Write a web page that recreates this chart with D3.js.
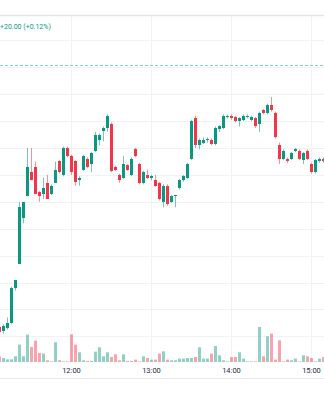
<!DOCTYPE html>
<html>
<head>
<meta charset="utf-8">
<script src="https://cdn.jsdelivr.net/npm/d3@7"></script>
<style>
  html, body { margin: 0; padding: 0; background: #fff; overflow: hidden; }
  svg { display: block; }
</style>
</head>
<body>
<svg id="chart" width="324" height="400"></svg>
<script>
// 3-minute bars
const times = ["11:06","11:09","11:12","11:15","11:18","11:21","11:24","11:27","11:30","11:33",
  "11:36","11:39","11:42","11:45","11:48","11:51","11:54","11:57","12:00","12:03",
  "12:06","12:09","12:12","12:15","12:18","12:21","12:24","12:27","12:30","12:33",
  "12:36","12:39","12:42","12:45","12:48","12:51","12:54","12:57","13:00","13:03",
  "13:06","13:09","13:12","13:15","13:18","13:21","13:24","13:27","13:30","13:33",
  "13:36","13:39","13:42","13:45","13:48","13:51","13:54","13:57","14:00","14:03",
  "14:06","14:09","14:12","14:15","14:18","14:21","14:24","14:27","14:30","14:33",
  "14:36","14:39","14:42","14:45","14:48","14:51","14:54","14:57","15:00","15:03",
  "15:06","15:09"];

const open = [16633.5,16632,16633,16635,16648,16657,16674,16682,16691,16693,
  16683.5,16683,16687,16683,16687,16695,16690,16700,16697,16695,
  16688,16692,16696,16694,16699,16703,16706.5,16707.5,16709,16693,
  16690,16689,16693.5,16690,16699.5,16694,16687,16690,16689,16688,
  16687,16680,16686,16680,16682,16685,16688,16689,16696,16711,
  16701,16702,16703,16703,16701.5,16707,16707.5,16711.5,16712,16711.5,
  16710,16710.5,16711.5,16710.5,16711,16709,16714,16713,16716,16713,
  16701,16696,16696,16696,16699,16699,16695.5,16699,16694,16691,
  16695,16696];

const high = [16634,16634.5,16637,16648.5,16651,16680,16680,16700,16700,16695,
  16684,16689,16690,16686.5,16695,16695.5,16700.5,16700.5,16697.5,16695.5,
  16689.5,16697.5,16696.5,16698.5,16706,16705.5,16708,16712.5,16709.5,16693.5,
  16690.5,16697,16694,16696.5,16700,16694.5,16691.5,16692,16690,16690,
  16687.5,16686.5,16686.5,16682.5,16682.5,16688.5,16690,16694.5,16710.5,16712,
  16703.5,16704,16704,16703.5,16708,16708.5,16712.5,16712.5,16712.5,16712,
  16711.5,16712.5,16712.5,16712,16711.5,16713.5,16714.5,16716.5,16719,16713.5,
  16702,16699.5,16696.5,16698.5,16700,16699.5,16698.5,16699.5,16694.5,16696,
  16696.5,16696.5];

const low = [16631,16631,16632.5,16634.5,16647,16657,16672,16682,16688,16683,
  16680,16681,16681,16682.5,16687,16690.5,16689.5,16696.5,16690,16686,
  16686,16691.5,16692.5,16691,16698.5,16701,16702.5,16706,16691,16691.5,
  16687,16688.5,16691.5,16689.5,16696.5,16686.5,16686.5,16688.5,16688,16685.5,
  16680.5,16678,16678.5,16679.5,16678,16684.5,16687.5,16688.5,16695.5,16700,
  16699.5,16701.5,16702,16701,16701,16706,16707,16711,16710.5,16709.5,
  16708,16710,16711,16710,16707.5,16706,16712.5,16712.5,16713.5,16703.5,
  16694,16695.5,16694.5,16695.5,16698.5,16695.5,16694,16695.5,16690.5,16690.5,
  16694.5,16694.5];

const close = [16631.5,16634,16635,16648,16651,16678,16680,16693,16688,16683,
  16682,16685,16681,16686,16692,16691,16700,16697,16691,16687.5,
  16689,16697,16693,16698,16705,16705,16707.5,16712,16691.5,16692,
  16688,16694,16692,16696,16697,16687,16691,16689,16689.5,16686,
  16681,16686,16679,16682,16682.5,16688,16689.5,16694,16710,16701,
  16703,16703,16703.5,16701.5,16707.5,16708,16712,16712,16711,16710,
  16711,16712,16712,16711.5,16708,16713,16713,16716,16714,16704,
  16696,16699,16695,16698,16699.5,16696,16698,16696,16691,16695.5,
  16696,16695];

const volume = [285,200,135,135,285,870,285,1370,750,1070,
  450,420,85,35,985,85,35,35,1385,870,
  485,85,50,50,520,735,285,485,250,385,
  85,385,50,50,120,35,285,200,120,120,
  420,535,120,85,85,170,170,200,200,250,
  735,170,170,420,800,335,85,35,250,250,
  485,170,35,35,35,1750,285,1285,1420,120,
  1085,35,120,85,170,35,335,285,200,35,
  170,250];

const hourTicks = ["12:00","13:00","14:00","15:00"];
const priceTicks = [16630,16640,16650,16660,16670,16680,16690,16700,16710,16720,16730,16740];
const refPrice = 16731;
const changeText = "+20.00 (+0.12%)";

const UP = "#089981", DOWN = "#f23645";
const W = 324, H = 400;
const plotTop = 16, plotBottom = 362;

const parse = d3.timeParse("%H:%M:%S");
const parseHM = d3.timeParse("%H:%M");

const x = d3.scaleTime()
  .domain([parse("11:06:45"), parse("15:09:45")])
  .range([0, W]);
const y = d3.scaleLinear().domain([16620, 16740]).range([363.2, 40.4]);
const vy = d3.scaleLinear().domain([0, 4000]).range([plotBottom, plotBottom - 80]);

const bars = times.map((t, i) => ({
  t: parseHM(t), o: open[i], h: high[i], l: low[i], c: close[i], v: volume[i]
}));

const svg = d3.select("#chart");
svg.append("rect").attr("width", W).attr("height", H).attr("fill", "#fff");

svg.append("defs").append("clipPath").attr("id", "plot")
  .append("rect").attr("x", 0).attr("y", plotTop).attr("width", W).attr("height", plotBottom - plotTop);

// grid
const grid = svg.append("g").attr("stroke", "#f0f2f6").attr("stroke-width", 1);
grid.selectAll("line.h").data(priceTicks).join("line")
  .attr("x1", 0).attr("x2", W)
  .attr("y1", d => Math.round(y(d)) + 0.5).attr("y2", d => Math.round(y(d)) + 0.5);
grid.selectAll("line.v").data(hourTicks).join("line")
  .attr("x1", d => Math.round(x(parseHM(d))) + 0.5).attr("x2", d => Math.round(x(parseHM(d))) + 0.5)
  .attr("y1", plotTop).attr("y2", plotBottom);

// frame lines
svg.append("line").attr("x1", 0).attr("x2", W).attr("y1", plotTop - 0.5).attr("y2", plotTop - 0.5)
  .attr("stroke", "#e3e5ec").attr("stroke-width", 1.5);
svg.append("line").attr("x1", 0).attr("x2", W).attr("y1", 378.5).attr("y2", 378.5)
  .attr("stroke", "#e6e8ee").attr("stroke-width", 1);

const plot = svg.append("g").attr("clip-path", "url(#plot)");

// reference price line
plot.append("line")
  .attr("x1", 0).attr("x2", W)
  .attr("y1", Math.round(y(refPrice)) + 0.5).attr("y2", Math.round(y(refPrice)) + 0.5)
  .attr("stroke", "#84cfc2")
  .attr("stroke-dasharray", "3,2");

const col = d => d.c >= d.o ? UP : DOWN;
const cx = d => Math.round(x(d.t));

// volume
plot.append("g").selectAll("rect").data(bars).join("rect")
  .attr("x", d => cx(d) - 1).attr("width", 3)
  .attr("y", d => vy(d.v)).attr("height", d => plotBottom - vy(d.v))
  .attr("fill", col).attr("fill-opacity", 0.45);

// wicks
plot.append("g").selectAll("line").data(bars).join("line")
  .attr("x1", d => cx(d) + 0.5).attr("x2", d => cx(d) + 0.5)
  .attr("y1", d => y(d.h)).attr("y2", d => y(d.l))
  .attr("stroke", col).attr("stroke-opacity", 0.55).attr("stroke-width", 1);

// bodies
plot.append("g").selectAll("rect").data(bars).join("rect")
  .attr("x", d => cx(d) - 1).attr("width", 3)
  .attr("y", d => Math.round(y(Math.max(d.o, d.c))))
  .attr("height", d => Math.max(1, Math.round(y(Math.min(d.o, d.c))) - Math.round(y(Math.max(d.o, d.c)))))
  .attr("fill", col);

// time axis labels
svg.append("g").selectAll("text").data(hourTicks).join("text")
  .attr("x", d => Math.round(x(parseHM(d))) + 0.5).attr("y", 373)
  .attr("text-anchor", "middle")
  .attr("font-family", "Roboto, 'Noto Sans', sans-serif").attr("font-size", 7.5)
  .attr("fill", "#2a2e39")
  .text(d => d);

// change header
svg.append("text").attr("x", 0).attr("y", 28.5)
  .attr("font-family", "Roboto, 'Noto Sans', sans-serif").attr("font-size", 7)
  .attr("fill", UP)
  .text(changeText);
</script>
</body>
</html>
